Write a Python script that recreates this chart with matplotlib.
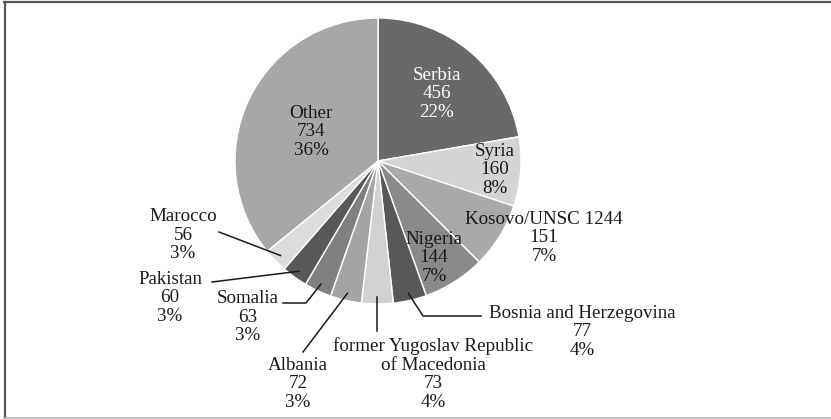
import numpy as np
import matplotlib.pyplot as plt
from matplotlib.lines import Line2D

countries = ['Serbia', 'Syria', 'Kosovo/UNSC 1244', 'Nigeria', 'Bosnia and Herzegovina',
             'former Yugoslav Republic\nof Macedonia', 'Albania', 'Somalia', 'Pakistan',
             'Marocco', 'Other']
counts = [456, 160, 151, 144, 77, 73, 72, 63, 60, 56, 734]
shares = [22, 8, 7, 7, 4, 4, 3, 3, 3, 3, 36]
colors = ['#69696b', '#d4d4d5', '#a9a9ab', '#8a8a8c', '#58585a', '#d2d2d3',
          '#a4a4a6', '#808082', '#58585a', '#dcdcdd', '#a7a7a9']

plt.rcParams['font.family'] = ['Liberation Serif', 'DejaVu Serif']

W, H = 831, 419
cx, cy, R = 378, 161, 143  # pie centre / radius in pixels


def to_data(px, py):
    return (px - cx) / R, (cy - py) / R


fig = plt.figure(figsize=(W / 100, H / 100), dpi=100)
ax = fig.add_axes([0, 0, 1, 1])
wedges, _ = ax.pie(counts, colors=colors, startangle=90, counterclock=False,
                   wedgeprops=dict(edgecolor='white', linewidth=1.0))
ax.set_xlim(-cx / R, (W - cx) / R)
ax.set_ylim(-(H - cy) / R, cy / R)
ax.set_aspect('auto')
ax.axis('off')

# label positions (pixel centres) and leader line layout
label_pos = {
    'Serbia': (437, 94), 'Syria': (495, 170), 'Kosovo/UNSC 1244': (544, 238),
    'Nigeria': (434, 258), 'Bosnia and Herzegovina': (582, 332),
    'former Yugoslav Republic\nof Macedonia': (433, 374), 'Albania': (298, 384),
    'Somalia': (248, 317), 'Pakistan': (170, 298), 'Marocco': (183, 235),
    'Other': (311, 132),
}
text_colors = {'Serbia': 'white'}
# leader line: outer points (pixels), inner end from wedge mid-angle
leaders = {
    'Marocco': [(219, 232)],
    'Pakistan': [(212, 282)],
    'Somalia': [(283, 303), (306, 303)],
    'Albania': [(303, 352)],
    'former Yugoslav Republic\nof Macedonia': [(None, 331)],
    'Bosnia and Herzegovina': [(481, 316), (423, 316)],
}

for w, name, c, s in zip(wedges, countries, counts, shares):
    px, py = label_pos[name]
    x, y = to_data(px, py)
    ax.text(x, y, f'{name}\n{c}\n{s}%', ha='center', va='center', fontsize=13.7,
            linespacing=1.12, color=text_colors.get(name, '#1a1a1a'))
    if name in leaders:
        mid = np.deg2rad((w.theta1 + w.theta2) / 2)
        inner = (0.95 * np.cos(mid), 0.95 * np.sin(mid))
        pts = []
        for p in leaders[name]:
            if p[0] is None:
                pts.append((inner[0], to_data(0, p[1])[1]))
            else:
                pts.append(to_data(*p))
        pts.append(inner)
        xs, ys = zip(*pts)
        ax.plot(xs, ys, color='#1a1a1a', linewidth=1.1)

# frame around figure
fig.add_artist(Line2D([4 / W, 1], [1 - 2.5 / H, 1 - 2.5 / H], color='#555555', lw=1.6, transform=fig.transFigure))
fig.add_artist(Line2D([4.5 / W, 4.5 / W], [0, 1 - 2.5 / H], color='#555555', lw=1.6, transform=fig.transFigure))
fig.add_artist(Line2D([4 / W, 1], [1 / H, 1 / H], color='#bbbbbb', lw=1.2, transform=fig.transFigure))

fig.savefig('out.png', dpi=100, facecolor='white')
